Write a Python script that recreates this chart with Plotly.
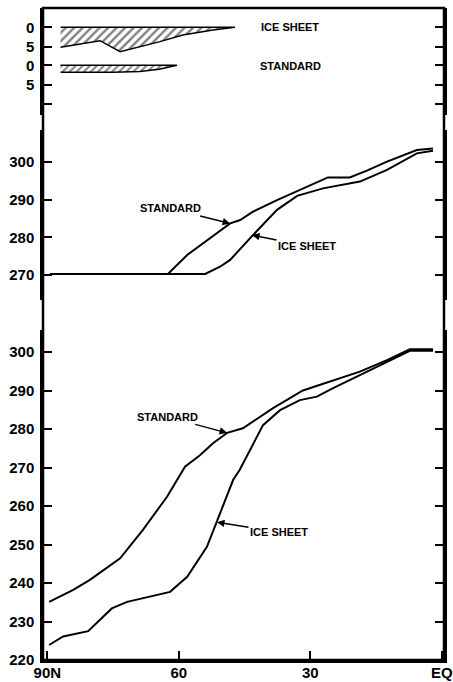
import plotly.graph_objects as go

# ---------------- data ----------------
# top panel: sea-ice thickness (m) vs latitude
ice_thick_lat = [87.0, 78.0, 73.4, 64.3, 59.1, 52.2, 47.2]
ice_thick_val = [5.15, 3.45, 6.3, 3.7, 2.0, 0.7, 0.0]
std_thick_lat = [87.0, 75.0, 68.9, 64.5, 60.4]
std_thick_val = [1.8, 1.8, 1.6, 1.0, 0.0]

# middle panel: sea surface temperature (K)
sst_std_lat = [89.4, 62.5, 58.1, 48.3, 46.0, 43.1, 37.6, 32.4, 26.0, 21.0, 17.1, 12.5, 5.7, 2.0]
sst_std_val = [270.3, 270.3, 275.3, 283.7, 284.6, 286.8, 289.9, 292.6, 295.9, 295.9, 297.7, 300.1, 303.2, 303.6]
sst_ice_lat = [89.4, 54.0, 50.6, 48.3, 43.1, 37.6, 33.0, 27.1, 18.7, 12.5, 5.7, 2.0]
sst_ice_val = [270.3, 270.3, 272.2, 274.0, 280.6, 287.3, 291.0, 293.0, 294.8, 297.9, 302.3, 303.0]

# bottom panel: surface air temperature (K)
sat_std_lat = [89.6, 84.1, 80.3, 73.4, 68.2, 62.7, 58.6, 55.2, 52.2, 49.0, 45.4, 38.5, 31.7, 24.8, 18.7, 12.5, 7.3, 2.0]
sat_std_val = [235.1, 238.2, 240.8, 246.4, 253.8, 262.4, 270.2, 273.2, 276.3, 279.0, 280.2, 285.4, 290.0, 292.7, 294.9, 297.9, 300.7, 300.7]
sat_ice_lat = [89.6, 86.4, 80.7, 75.3, 71.8, 62.0, 58.1, 53.6, 50.6, 47.6, 46.1, 40.8, 36.9, 32.4, 28.5, 24.8, 18.7, 12.5, 7.3, 2.0]
sat_ice_val = [223.9, 226.1, 227.5, 233.4, 235.1, 237.7, 241.6, 249.4, 258.1, 266.8, 269.4, 281.0, 284.9, 287.5, 288.4, 290.6, 294.0, 297.5, 300.3, 300.3]

x_tickvals = [90, 60, 30, 0]
x_ticktext = ["90N", "60", "30", "EQ"]
sat_ticks = [220, 230, 240, 250, 260, 270, 280, 290, 300]
sst_ticks = [270, 280, 290, 300]

FONT = "Liberation Sans"
black = "black"

fig = go.Figure()

def hatched(lat, val, yaxis, size):
    xs = list(lat) + list(reversed(lat))
    ys = [0.0] * len(lat) + list(reversed(val))
    fig.add_trace(go.Scatter(
        x=xs, y=ys, yaxis=yaxis, mode="lines", fill="toself",
        fillcolor="white",
        fillpattern=dict(shape="/", fgcolor=black, bgcolor="white", size=size, solidity=0.4),
        line=dict(color=black, width=1.5), hoverinfo="skip", showlegend=False))

hatched(ice_thick_lat, ice_thick_val, "y3", 6)
hatched(std_thick_lat, std_thick_val, "y4", 5)

for lat, val, ya in [(sst_std_lat, sst_std_val, "y2"), (sst_ice_lat, sst_ice_val, "y2"),
                     (sat_std_lat, sat_std_val, "y"), (sat_ice_lat, sat_ice_val, "y")]:
    fig.add_trace(go.Scatter(x=lat, y=val, yaxis=ya, mode="lines",
                             line=dict(color=black, width=2), showlegend=False))

tickfont = dict(family=FONT, size=15, color=black, weight="bold")
common_y = dict(showgrid=False, zeroline=False, ticks="inside", ticklen=9, tickwidth=2,
                tickcolor=black, showline=True, linecolor=black, linewidth=2.5,
                mirror="ticks", tickfont=tickfont, anchor="x", ticklabelstandoff=3,
                automargin=False)

fig.update_layout(
    width=453, height=682,
    margin=dict(l=43, r=9, t=8, b=22),
    paper_bgcolor="white", plot_bgcolor="white",
    xaxis=dict(range=[91, -0.5], tickvals=x_tickvals, ticktext=x_ticktext,
               ticks="inside", ticklen=9, tickwidth=2, tickcolor=black,
               showline=True, linecolor=black, linewidth=2.5, showgrid=False,
               zeroline=False, tickfont=tickfont, anchor="y", automargin=False,
               ticklabelstandoff=-3),
    yaxis=dict(domain=[0, 0.5061], range=[220, 305.71], tickvals=sat_ticks, **common_y),
    yaxis2=dict(domain=[0.5521, 0.8129], range=[263.36, 308.5], tickvals=sst_ticks, **common_y),
    yaxis3=dict(domain=[0.9264, 1.0], range=[7.40, -4.97], tickvals=[0, 5],
                ticktext=["0", "5"], **common_y),
    yaxis4=dict(domain=[0.8359, 0.9264], range=[12.81, -2.40], tickvals=[0, 5, 10],
                ticktext=["0", "5", ""], **common_y),
)

fig.add_shape(type="rect", xref="paper", yref="paper", x0=0, x1=1, y0=0, y1=1,
              line=dict(color=black, width=2.5), layer="above")

lab = dict(family=FONT, size=11, color=black, weight="bold")
# top-panel labels
fig.add_annotation(x=0.615, y=0, xref="paper", yref="y3", text="ICE SHEET",
                   showarrow=False, font=lab)
fig.add_annotation(x=0.617, y=0.3, xref="paper", yref="y4", text="STANDARD",
                   showarrow=False, font=lab)

arrow = dict(showarrow=True, arrowhead=2, arrowsize=1, arrowwidth=1.5, arrowcolor=black, font=lab)
fig.add_annotation(x=48.3, y=283.7, yref="y2", text="STANDARD", ax=-60, ay=-15, **arrow)
fig.add_annotation(x=43.3, y=280.6, yref="y2", text="ICE SHEET", ax=55, ay=11, **arrow)
fig.add_annotation(x=49.0, y=279.0, yref="y", text="STANDARD", ax=-60, ay=-16, **arrow)
fig.add_annotation(x=51.3, y=255.8, yref="y", text="ICE SHEET", ax=62, ay=10, **arrow)

fig.write_html(
    "out.html",
    config={"displayModeBar": False},
    post_script=("document.documentElement.style.margin='0';"
                 "document.documentElement.style.overflow='hidden';"
                 "document.body.style.margin='0';"
                 "document.body.style.overflow='hidden';"),
)
